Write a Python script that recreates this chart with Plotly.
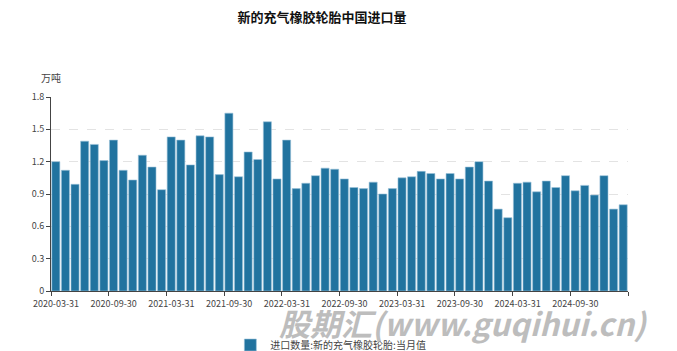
import pandas as pd
import plotly.graph_objects as go

dates = [d.strftime("%Y-%m-%d") for d in pd.date_range("2020-03-31", periods=60, freq="ME")]
values = [
    1.20, 1.12, 0.99, 1.39, 1.36, 1.21, 1.40, 1.12, 1.03, 1.26,
    1.15, 0.94, 1.43, 1.40, 1.17, 1.44, 1.43, 1.08, 1.65, 1.06,
    1.29, 1.22, 1.57, 1.04, 1.40, 0.95, 1.00, 1.07, 1.14, 1.13,
    1.04, 0.96, 0.95, 1.01, 0.90, 0.95, 1.05, 1.06, 1.11, 1.09,
    1.04, 1.09, 1.04, 1.15, 1.20, 1.02, 0.76, 0.68, 1.00, 1.01,
    0.92, 1.02, 0.96, 1.07, 0.93, 0.98, 0.89, 1.07, 0.76, 0.80,
]
series_name = "进口数量:新的充气橡胶轮胎:当月值"
title = "新的充气橡胶轮胎中国进口量"
unit = "万吨"
y_ticks = [0, 0.3, 0.6, 0.9, 1.2, 1.5, 1.8]
y_ticktext = ["0", "0.3", "0.6", "0.9", "1.2", "1.5", "1.8"]

tick_pos = [i - 0.5 for i in range(0, len(dates) + 1, 6)]
tick_text = [dates[i] if i < len(dates) else "" for i in range(0, len(dates) + 1, 6)]

FONT = "Noto Sans CJK SC, Noto Sans, sans-serif"
W, H = 677, 351

fig = go.Figure()
fig.add_trace(go.Bar(
    x=dates, y=values, name=series_name,
    marker=dict(color="#21739f", line=dict(color="#9cc3da", width=0.6)),
    showlegend=True,
))

fig.update_layout(
    width=W, height=H,
    margin=dict(l=51, r=49, t=97, b=60, autoexpand=False),
    paper_bgcolor="white", plot_bgcolor="white",
    font=dict(family=FONT, size=10, color="#555"),
    bargap=0.16,
    title=dict(text="<b>" + title + "</b>", x=322 / W, xanchor="center",
               y=1 - 17 / H, yanchor="middle",
               font=dict(family=FONT, size=13, color="#111")),
    xaxis=dict(
        type="category", range=[-0.5, len(dates) - 0.5],
        tickmode="array", tickvals=tick_pos, ticktext=tick_text,
        ticklabelshift=5,
        ticks="outside", ticklen=4, tickcolor="#444",
        showline=True, linecolor="#444", linewidth=1,
        showgrid=False, tickfont=dict(size=9, color="#444"),
        automargin=False,
    ),
    yaxis=dict(
        range=[0, 1.8], tickmode="array", tickvals=y_ticks, ticktext=y_ticktext,
        ticks="outside", ticklen=4, tickcolor="#444",
        showline=True, linecolor="#444", linewidth=1,
        showgrid=True, gridcolor="#e3e3e3", griddash="dash", gridwidth=1,
        tickfont=dict(size=9, color="#444"), zeroline=False,
        automargin=False,
    ),
    legend=dict(orientation="h", x=0.485, xanchor="center",
                yref="container", y=(H - 345) / H, yanchor="middle",
                font=dict(size=10, color="#444")),
)

fig.add_annotation(text=unit, xref="paper", yref="paper",
                   x=0, y=1 + 19 / 194, xanchor="center", yanchor="middle",
                   showarrow=False, font=dict(size=10, color="#444"))

fig.add_annotation(text="<b><i>股期汇(www.guqihui.cn)</i></b>", xref="paper", yref="paper",
                   x=(463 - 51) / 577, y=-(322 - 291) / 194, xanchor="center", yanchor="middle",
                   showarrow=False, font=dict(size=31, color="#bdbdbd", family=FONT))

fig.write_html("out.html")
